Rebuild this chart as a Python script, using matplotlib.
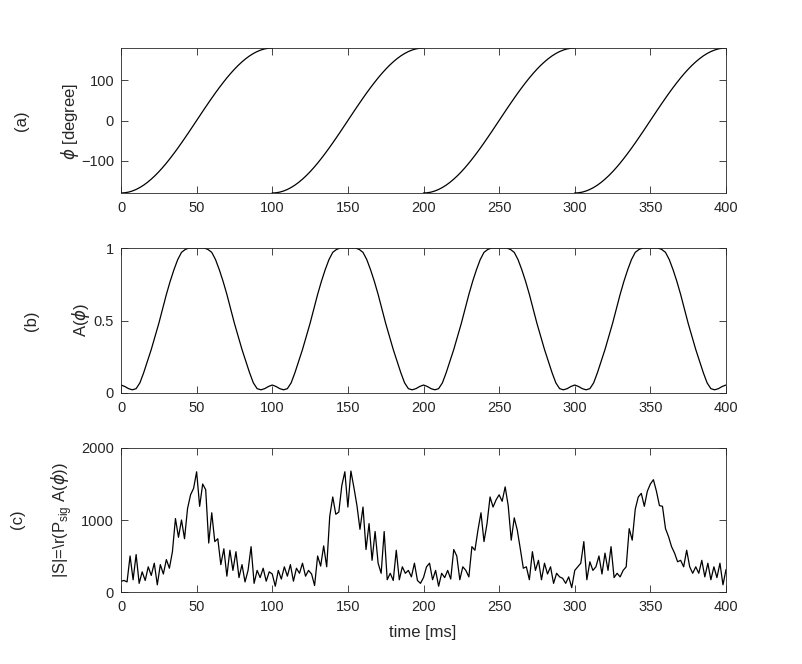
import numpy as np
import matplotlib
matplotlib.use("Agg")
import matplotlib.pyplot as plt

plt.rcParams['font.family'] = ['Liberation Sans', 'DejaVu Sans']
plt.rcParams['mathtext.fontset'] = 'dejavusans'

# ---- data ----
x_ticks = [0, 50, 100, 150, 200, 250, 300, 350, 400]
period_starts = [0, 100, 200, 300]
t_period = [0, 2.5, 5, 7.5, 10, 12.5, 15, 17.5, 20, 22.5, 25, 27.5, 30, 32.5, 35, 37.5,
            40, 42.5, 45, 47.5, 50, 52.5, 55, 57.5, 60, 62.5, 65, 67.5, 70, 72.5, 75,
            77.5, 80, 82.5, 85, 87.5, 90, 92.5, 95, 97.5, 100]

# phase within one period (degrees), panel (a)
phi_period = [-180, -179.4, -177.8, -175.0, -171.2, -166.3, -160.4, -153.5, -145.6, -136.9,
              -127.3, -116.9, -105.8, -94.0, -81.7, -68.9, -55.6, -42.0, -28.2, -14.1, 0,
              14.1, 28.2, 42.0, 55.6, 68.9, 81.7, 94.0, 105.8, 116.9, 127.3, 136.9, 145.6,
              153.5, 160.4, 166.3, 171.2, 175.0, 177.8, 179.4, 180]

# A(phi) within one period, panel (b)
a_period = [0.055, 0.045, 0.03, 0.022, 0.03, 0.07, 0.14, 0.22, 0.30, 0.39, 0.48, 0.58,
            0.68, 0.77, 0.85, 0.92, 0.97, 0.99, 1.0, 1.0, 1.0, 1.0, 1.0, 0.99, 0.97, 0.92,
            0.85, 0.77, 0.68, 0.58, 0.48, 0.39, 0.30, 0.22, 0.14, 0.07, 0.03, 0.022, 0.03,
            0.045, 0.055]

# |S| samples every 2 ms, panel (c)
s_0_98 = [150, 160, 140, 500, 170, 520, 120, 280, 160, 350, 230, 400, 100, 380, 250, 450,
          330, 560, 1020, 760, 1000, 740, 1160, 1350, 1440, 1670, 1190, 1500, 1420, 680,
          1100, 700, 740, 380, 600, 220, 580, 300, 560, 200, 380, 140, 300, 630, 120, 300,
          200, 330, 150, 280]
s_100_198 = [250, 80, 300, 180, 350, 220, 380, 150, 330, 260, 400, 220, 300, 250, 90, 500,
             360, 640, 350, 1050, 1320, 1080, 1110, 1480, 1670, 1180, 1680, 1450, 1200, 870,
             1180, 590, 950, 440, 840, 400, 260, 840, 170, 260, 160, 580, 170, 350, 260,
             300, 210, 400, 160, 120]
s_200_298 = [200, 350, 400, 170, 300, 80, 260, 200, 300, 180, 590, 500, 170, 350, 300, 210,
             630, 580, 860, 1100, 700, 950, 1320, 1180, 1280, 1350, 1260, 1460, 1200, 720,
             1030, 860, 600, 330, 350, 170, 560, 300, 440, 170, 400, 250, 350, 120, 260,
             210, 190, 120, 210, 60]
s_300_400 = [300, 350, 400, 700, 170, 420, 300, 350, 500, 250, 540, 300, 630, 200, 260, 210,
             300, 350, 880, 720, 1150, 1320, 1370, 1190, 1400, 1500, 1560, 1400, 1200, 1190,
             880, 770, 630, 540, 420, 440, 350, 580, 350, 260, 350, 260, 440, 210, 400, 170,
             350, 200, 400, 100, 310]
s_step = 2

# ---- figure ----
W, H = 802, 664
fig = plt.figure(figsize=(W / 100, H / 100), dpi=100)
col = '#262626'

def axes_px(top, bottom, left=121, right=726):
    return fig.add_axes([left / W, 1 - bottom / H, (right - left) / W, (bottom - top) / H])

axa = axes_px(48, 193)
axb = axes_px(248, 393)
axc = axes_px(448, 592)

tp = np.array(t_period)
for s in period_starts:
    axa.plot(s + tp, phi_period, color='black', lw=0.9)

t_b = np.concatenate([s + tp[:-1] for s in period_starts] + [[400]])
a_b = np.concatenate([a_period[:-1] for _ in period_starts] + [[a_period[-1]]])
axb.plot(t_b, a_b, color='black', lw=0.9)

s_all = np.array(s_0_98 + s_100_198 + s_200_298 + s_300_400)
t_c = np.arange(len(s_all)) * s_step
axc.plot(t_c, s_all, color='black', lw=0.9)

for ax in (axa, axb, axc):
    ax.set_xlim(0, 400)
    ax.set_xticks(x_ticks)
    ax.tick_params(direction='in', top=True, right=True, length=5, width=0.6,
                   colors=col, labelsize=10.5, pad=5)
    ax.tick_params(axis='x', pad=6)
    for sp in ax.spines.values():
        sp.set_linewidth(0.6)
        sp.set_color(col)

axa.set_ylim(-180, 180)
axa.set_yticks([-100, 0, 100])
axb.set_ylim(0, 1)
axb.set_yticks([0, 0.5, 1])
axb.set_yticklabels(['0', '0.5', '1'])
axc.set_ylim(0, 2000)
axc.set_yticks([0, 1000, 2000])

fs = 12
def ftext(x, y, s, **kw):
    fig.text(x / W, 1 - y / H, s, rotation=kw.pop('rotation', 90), ha='center', va='center',
             fontsize=fs, color=col, **kw)

ftext(22, 121, '(a)')
ftext(70, 121, r'$\phi$ [degree]')
ftext(31, 321, '(b)')
ftext(81, 320, r'A($\phi$)')
ftext(18, 519, '(c)')
ftext(62, 520, r'|S|=\r(P$_{\mathregular{sig}}$ A($\phi$))')
ftext(423, 632, 'time [ms]', rotation=0)

fig.savefig('out.png', dpi=100)
